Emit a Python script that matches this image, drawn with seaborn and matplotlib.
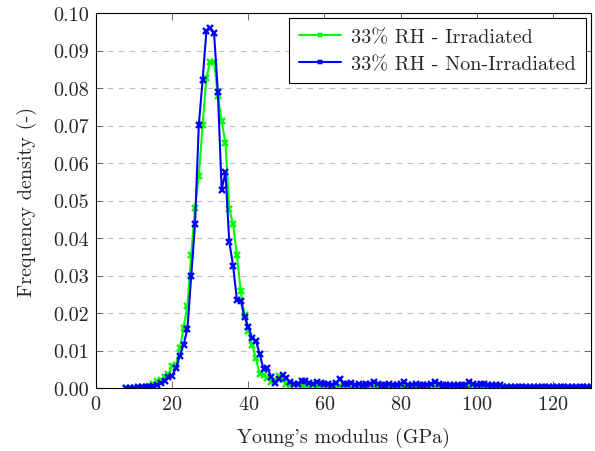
import matplotlib
matplotlib.use("Agg")
import matplotlib.pyplot as plt
import seaborn as sns

# Young's modulus bins (GPa)
modulus = list(range(8, 131))

irradiated = [
    0.0001, 0.0001, 0.0001, 0.0001, 0.0002, 0.0003, 0.0005, 0.0010, 0.0020, 0.0022,  # 8-17
    0.0030, 0.0037, 0.0060, 0.0062, 0.0106, 0.0160, 0.0220, 0.0356, 0.0480, 0.0566,  # 18-27
    0.0702, 0.0828, 0.0870, 0.0870, 0.0780, 0.0712, 0.0653, 0.0477, 0.0437, 0.0355,  # 28-37
    0.0258, 0.0195, 0.0153, 0.0115, 0.0079, 0.0037, 0.0035, 0.0028, 0.0017, 0.0022,  # 38-47
    0.0033, 0.0024, 0.0012, 0.0009, 0.0008, 0.0010, 0.0007, 0.0008, 0.0006, 0.0007,  # 48-57
    0.0005, 0.0006, 0.0007, 0.0005, 0.0006, 0.0004, 0.0006, 0.0005, 0.0004, 0.0006,  # 58-67
    0.0005, 0.0004, 0.0005, 0.0006, 0.0004, 0.0005, 0.0004, 0.0005, 0.0006, 0.0004,  # 68-77
    0.0005, 0.0004, 0.0006, 0.0005, 0.0004, 0.0005, 0.0004, 0.0003, 0.0005, 0.0004,  # 78-87
    0.0005, 0.0004, 0.0003, 0.0005, 0.0004, 0.0003, 0.0004, 0.0005, 0.0003, 0.0004,  # 88-97
    0.0005, 0.0004, 0.0003, 0.0004, 0.0005, 0.0004, 0.0003, 0.0004, 0.0003, 0.0003,  # 98-107
    0.0002, 0.0002, 0.0002, 0.0001, 0.0002, 0.0002, 0.0001, 0.0002, 0.0001, 0.0002,  # 108-117
    0.0001, 0.0002, 0.0001, 0.0001, 0.0002, 0.0001, 0.0001, 0.0002, 0.0001, 0.0001,  # 118-127
    0.0001, 0.0002, 0.0001,                                                          # 128-130
]

non_irradiated = [
    0.0001, 0.0001, 0.0001, 0.0002, 0.0002, 0.0003, 0.0004, 0.0006, 0.0009, 0.0013,  # 8-17
    0.0018, 0.0030, 0.0033, 0.0053, 0.0086, 0.0116, 0.0157, 0.0298, 0.0437, 0.0701,  # 18-27
    0.0821, 0.0953, 0.0960, 0.0947, 0.0790, 0.0529, 0.0575, 0.0390, 0.0326, 0.0236,  # 28-37
    0.0233, 0.0190, 0.0164, 0.0133, 0.0126, 0.0090, 0.0050, 0.0054, 0.0030, 0.0013,  # 38-47
    0.0025, 0.0035, 0.0026, 0.0016, 0.0010, 0.0012, 0.0020, 0.0019, 0.0014, 0.0012,  # 48-57
    0.0016, 0.0013, 0.0011, 0.0010, 0.0009, 0.0013, 0.0024, 0.0012, 0.0010, 0.0014,  # 58-67
    0.0009, 0.0011, 0.0008, 0.0010, 0.0012, 0.0017, 0.0011, 0.0009, 0.0007, 0.0010,  # 68-77
    0.0008, 0.0009, 0.0012, 0.0015, 0.0009, 0.0008, 0.0010, 0.0007, 0.0009, 0.0008,  # 78-87
    0.0010, 0.0015, 0.0010, 0.0008, 0.0007, 0.0009, 0.0008, 0.0007, 0.0009, 0.0008,  # 88-97
    0.0015, 0.0011, 0.0007, 0.0012, 0.0011, 0.0009, 0.0008, 0.0009, 0.0007, 0.0004,  # 98-107
    0.0003, 0.0002, 0.0003, 0.0002, 0.0002, 0.0003, 0.0002, 0.0002, 0.0003, 0.0002,  # 108-117
    0.0002, 0.0003, 0.0002, 0.0002, 0.0002, 0.0003, 0.0002, 0.0002, 0.0002, 0.0003,  # 118-127
    0.0002, 0.0002, 0.0002,                                                          # 128-130
]

sns.set_style("ticks")
plt.rcParams['font.family'] = 'serif'
plt.rcParams['font.serif'] = ['cmr10', 'DejaVu Serif']
plt.rcParams['mathtext.fontset'] = 'cm'
plt.rcParams['axes.formatter.use_mathtext'] = True
plt.rcParams['font.size'] = 14.5

fig = plt.figure(figsize=(5.95, 4.52), dpi=100)
ax = fig.add_axes([96 / 595, 1 - 389 / 452, 495 / 595, 375 / 452])

green = (0, 1, 0)
blue = (0, 0, 1)
style = dict(marker='x', markersize=5, markeredgewidth=1.7, linewidth=1.5)
sns.lineplot(x=modulus, y=irradiated, color=green, mec=green, mfc=green,
             label='33% RH - Irradiated', ax=ax, **style)
sns.lineplot(x=modulus, y=non_irradiated, color=blue, mec=blue, mfc=blue,
             label='33% RH - Non-Irradiated', ax=ax, **style)

ax.set_xlim(0, 130)
ax.set_ylim(0, 0.1)
ax.set_xticks([0, 20, 40, 60, 80, 100, 120])
ax.set_yticks([i / 100 for i in range(11)])
ax.set_yticklabels([f'{i / 100:.2f}' for i in range(11)])
ax.yaxis.grid(True, linestyle=(0, (5, 5)), color='#c0c0c0', linewidth=0.8)
ax.set_axisbelow(True)
ax.tick_params(direction='in', top=True, right=True, length=5, width=0.6,
               color='#555555', pad=5)
for s in ax.spines.values():
    s.set_linewidth(0.8)
    s.set_color('black')

ax.set_xlabel("Young's modulus (GPa)", labelpad=10)
ax.set_ylabel('Frequency density (-)', labelpad=12)

leg = ax.legend(loc='upper right', fancybox=False, framealpha=1, edgecolor='black',
                borderaxespad=0.25, handlelength=2.1, handletextpad=0.5,
                labelspacing=0.45, borderpad=0.5, markerscale=0.7)
leg.get_frame().set_linewidth(0.8)

fig.savefig('out.png', dpi=100)
